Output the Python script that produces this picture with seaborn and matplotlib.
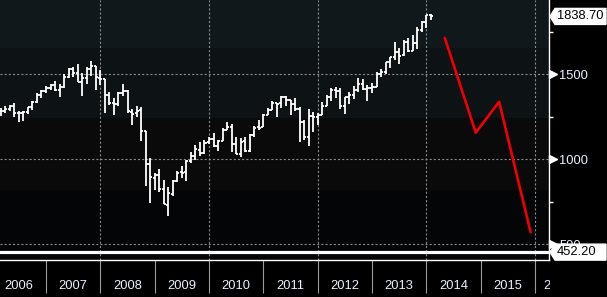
import numpy as np
import pandas as pd
import matplotlib
matplotlib.use("Agg")
import matplotlib.pyplot as plt
import seaborn as sns
from matplotlib import font_manager
from matplotlib.patches import Polygon
from matplotlib.transforms import blended_transform_factory, IdentityTransform, Bbox

# ---------------- data (monthly OHLC bars) ----------------
months = pd.date_range("2006-02-01", "2014-01-01", freq="MS")

opens = [1280.1, 1280.7, 1294.8, 1310.6, 1270.1, 1270.2, 1276.7, 1303.8, 1335.9, 1377.9, 1400.6,
         1418.3, 1438.2, 1406.8, 1420.9, 1482.4, 1530.6, 1504.4, 1455.2, 1473.9, 1527.3, 1545.8, 1479.4,
         1468.0, 1378.6, 1330.5, 1326.4, 1386.0, 1399.0, 1276.7, 1269.4, 1287.8, 1164.2, 968.7, 888.6,
         903.0, 823.1, 729.6, 793.6, 872.7, 923.3, 920.8, 990.2, 1019.5, 1054.9, 1036.2, 1098.9,
         1116.6, 1073.9, 1105.4, 1171.2, 1188.6, 1087.3, 1031.1, 1107.5, 1049.7, 1143.5, 1185.7, 1186.6,
         1257.6, 1289.1, 1328.6, 1329.5, 1365.2, 1345.2, 1320.6, 1292.6, 1219.1, 1131.2, 1251.0, 1246.9,
         1258.9, 1312.5, 1365.9, 1408.5, 1397.9, 1309.9, 1362.3, 1379.3, 1406.5, 1440.9, 1412.2, 1416.2,
         1426.2, 1498.1, 1514.7, 1569.2, 1597.6, 1631.7, 1609.8, 1689.4, 1636.0, 1682.4, 1758.7, 1806.6,
         1845.9]
highs = [1297.6, 1310.9, 1318.2, 1326.7, 1284.0, 1280.4, 1307.0, 1340.3, 1389.5, 1407.9, 1431.8,
         1441.6, 1461.6, 1438.9, 1498.0, 1535.6, 1540.6, 1555.9, 1503.9, 1538.7, 1576.1, 1545.8, 1523.6,
         1471.8, 1396.0, 1359.7, 1397.0, 1440.2, 1404.1, 1292.2, 1313.2, 1303.0, 1167.0, 1007.5, 919.0,
         943.9, 875.0, 833.0, 877.6, 930.2, 956.2, 996.7, 1039.5, 1080.2, 1101.4, 1111.0, 1130.4,
         1150.5, 1112.4, 1180.7, 1219.8, 1205.1, 1131.2, 1121.0, 1129.2, 1148.6, 1196.1, 1227.1, 1262.6,
         1302.7, 1344.1, 1332.3, 1370.6, 1370.6, 1345.2, 1356.5, 1307.4, 1229.3, 1292.7, 1277.6, 1269.4,
         1333.5, 1378.0, 1419.2, 1422.4, 1415.3, 1363.5, 1391.7, 1426.7, 1474.5, 1471.0, 1434.3, 1448.0,
         1509.9, 1530.9, 1570.3, 1597.6, 1687.2, 1654.2, 1698.8, 1709.7, 1729.9, 1775.2, 1813.6, 1849.4,
         1850.8]
lows = [1253.6, 1268.0, 1280.7, 1245.3, 1219.3, 1224.5, 1263.1, 1290.9, 1327.1, 1360.7, 1385.9,
        1403.9, 1398.4, 1363.8, 1416.4, 1476.7, 1484.2, 1454.3, 1370.6, 1439.0, 1489.6, 1406.1, 1435.7,
        1270.1, 1316.8, 1257.0, 1312.2, 1373.1, 1272.0, 1200.4, 1247.5, 1106.4, 839.8, 741.0, 815.7,
        804.3, 734.5, 666.8, 783.3, 866.1, 888.9, 869.3, 978.5, 992.0, 1020.2, 1029.4, 1085.9,
        1071.6, 1044.5, 1105.4, 1170.7, 1040.8, 1028.3, 1010.9, 1039.7, 1039.7, 1131.9, 1173.0, 1186.6,
        1257.6, 1289.1, 1249.1, 1302.7, 1311.8, 1258.1, 1282.9, 1101.5, 1114.2, 1074.8, 1158.7, 1202.4,
        1258.9, 1312.5, 1340.0, 1357.4, 1292.0, 1266.7, 1325.4, 1354.7, 1396.6, 1403.3, 1343.4, 1385.4,
        1426.2, 1485.0, 1501.5, 1536.0, 1581.3, 1560.3, 1604.6, 1627.5, 1633.4, 1646.5, 1746.2, 1768.0,
        1815.5]
closes = [1280.7, 1294.8, 1310.6, 1270.1, 1270.2, 1276.7, 1303.8, 1335.9, 1377.9, 1400.6, 1418.3,
          1438.2, 1406.8, 1420.9, 1482.4, 1530.6, 1503.4, 1455.3, 1474.0, 1526.8, 1549.4, 1481.1, 1468.4,
          1378.6, 1330.6, 1322.7, 1385.6, 1400.4, 1280.0, 1267.4, 1282.8, 1166.4, 968.8, 896.2, 903.3,
          825.9, 735.1, 797.9, 872.8, 919.1, 919.3, 987.5, 1020.6, 1057.1, 1036.2, 1095.6, 1115.1,
          1073.9, 1104.5, 1169.4, 1186.7, 1089.4, 1030.7, 1101.6, 1049.3, 1141.2, 1183.3, 1180.6, 1257.6,
          1286.1, 1327.2, 1325.8, 1363.6, 1345.2, 1320.6, 1292.3, 1218.9, 1131.4, 1253.3, 1247.0, 1257.6,
          1312.4, 1365.7, 1408.5, 1397.9, 1310.3, 1362.2, 1379.3, 1406.6, 1440.7, 1412.2, 1416.2, 1426.2,
          1498.1, 1514.7, 1569.2, 1597.6, 1630.7, 1606.3, 1685.7, 1633.0, 1681.6, 1756.5, 1805.8, 1848.4,
          1838.70]

# red projection line (decimal years, index level)
fc_x = [2014.34, 2014.91, 2015.34, 2015.92]
fc_y = [1712, 1155, 1337, 569]

year_labels = ["2006", "2007", "2008", "2009", "2010", "2011", "2012", "2013", "2014", "2015", "2016"]
y_ticks = [500, 1000, 1500]
y_minor = [750, 1250, 1750]
last_price = 1838.70
low_line = 452.20

# ---------------- style ----------------
sns.set_theme(style="dark")
names = {f.name for f in font_manager.fontManager.ttflist}
if "Liberation Sans Narrow" in names:
    FONT, FS = "Liberation Sans Narrow", 10.5
else:
    FONT, FS = "Liberation Sans", 9.3
plt.rcParams["font.family"] = [FONT, "DejaVu Sans"]
plt.rcParams["lines.scale_dashes"] = False
TXT = "#eaf2ff"

W, H = 607, 297
fig = plt.figure(figsize=(W / 100, H / 100), dpi=100, facecolor="black")
ax = fig.add_axes([0, 37 / H, 549 / W, 260 / H])

# background bands (screen gradient)
cols = [(0x04, 0x05, 0x06), (0x0a, 0x0a, 0x0b), (0x0d, 0x12, 0x15), (0x11, 0x18, 0x1c)]
rows = [70, 72, 70, 48]
img = np.concatenate([np.tile(np.array(c, float) / 255, (n, 1)) for c, n in zip(cols, rows)])[:, None, :]
ax.imshow(img, extent=[0, 1, 0, 1], transform=ax.transAxes, aspect="auto",
          origin="lower", zorder=0, interpolation="nearest")

# x positions: bar at month end
xs = np.array([m.year + m.month / 12 for m in months])
w = 0.038
ax.vlines(xs, lows, highs, color="white", lw=1.3, zorder=3)
ax.hlines(opens, xs - w, xs, color="white", lw=1.3, zorder=3)
ax.hlines(closes, xs, xs + w, color="white", lw=1.3, zorder=3)

sns.lineplot(x=fc_x, y=fc_y, ax=ax, color="#f00000", lw=1.9, sort=False, zorder=4)

ax.set_xlim(2006.153, 2016.258)
ax.set_ylim(405.9, 1935.3)

# grid
for gx in [2008, 2010, 2012, 2014, 2016]:
    ax.axvline(gx, color="#8c8c8c", lw=0.8, dashes=(1.5, 1.5), zorder=2)
for gy in y_ticks:
    ax.axhline(gy, color="#8c8c8c", lw=0.8, dashes=(1.5, 1.5), zorder=2)
ax.axhline(low_line, color="white", lw=2.3, zorder=3)

for s in ["left", "top"]:
    ax.spines[s].set_visible(False)
for s in ["right", "bottom"]:
    ax.spines[s].set_visible(True)
    ax.spines[s].set_color("white")
    ax.spines[s].set_linewidth(1.0)

# x axis: separators at year boundaries, labels centered in years
ax.set_xticks(list(range(2007, 2017)))
ax.set_xticklabels([])
ax.tick_params(axis="x", which="major", direction="out", length=23.5, width=0.8,
               color="#9a9a9a", bottom=True)
tb = blended_transform_factory(ax.transData, ax.transAxes)
for lab in year_labels:
    yr = int(lab)
    if yr < 2016:
        ax.text(yr + 0.5, -0.1, lab, transform=tb, ha="center", va="center",
                color=TXT, fontsize=FS, clip_on=False)
    else:
        t = ax.text(yr + 0.147, -0.1, lab, transform=tb, ha="left", va="center",
                    color=TXT, fontsize=FS)
        t.set_clip_on(True)
        t.set_clip_box(Bbox([[0, 0], [550, H]]))

# y axis on the right
ax.yaxis.tick_right()
ax.set_yticks(y_ticks)
ax.set_yticklabels([str(v) for v in y_ticks], color=TXT, fontsize=FS)
ax.set_yticks(y_minor, minor=True)
ax.tick_params(axis="y", which="major", length=0, pad=7.3, right=True, left=False)
ax.tick_params(axis="y", which="minor", length=3, width=1, color="white", right=True, left=False)
ax.set_xlabel("")
ax.set_ylabel("")
ty = blended_transform_factory(ax.transAxes, ax.transData)
ax.plot([1 + 4 / 549] * len(y_ticks), y_ticks, ls="none", marker=">", ms=5.5, color="white",
        transform=ty, clip_on=False, zorder=5)


# price tags
def tag(val, text):
    _, yd = ax.transData.transform((2010, val))
    hh = 8
    pts = [(550, yd), (555, yd + hh), (606, yd + hh), (606, yd - hh), (555, yd - hh)]
    p = Polygon(pts, closed=True, facecolor="white", edgecolor="white",
                transform=IdentityTransform(), zorder=10)
    fig.add_artist(p)
    fig.text(557 / W, yd / H, text, color="black", fontsize=FS, ha="left", va="center",
             zorder=11)


tag(last_price, f"{last_price:.2f}")
tag(low_line, f"{low_line:.2f}")

fig.savefig("out.png", dpi=100, facecolor="black")
